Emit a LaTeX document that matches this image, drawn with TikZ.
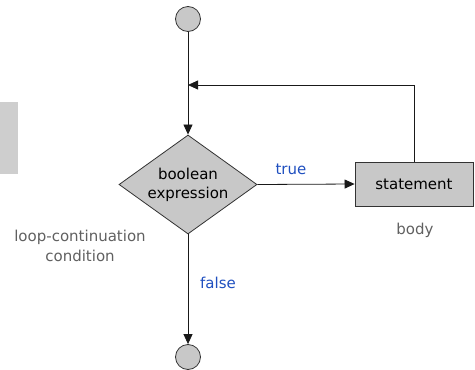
\documentclass[tikz,border=0pt]{standalone}
\usepackage{fontspec}
\setmainfont{DejaVu Sans}
\usetikzlibrary{shapes.geometric,arrows.meta}
\definecolor{shapegray}{HTML}{C8C8C8}
\definecolor{labelblue}{HTML}{1F4FBF}
\definecolor{notegray}{HTML}{606060}
\tikzset{
  terminal/.style={circle,draw=black!80,fill=shapegray,line width=0.8pt,minimum size=25pt,inner sep=0pt},
  decision/.style={diamond,draw=black!80,fill=shapegray,line width=0.8pt,minimum width=138pt,minimum height=99pt,inner sep=0pt},
  decisiontext/.style={align=center,inner sep=0pt,font=\fontsize{15}{19}\selectfont},
  process/.style={rectangle,draw=black!80,fill=shapegray,line width=0.8pt,minimum width=118pt,minimum height=44pt,inner sep=0pt,font=\fontsize{15}{17}\selectfont},
  flow/.style={draw=black!90,line width=0.8pt,-{Triangle[length=10pt,width=9pt]}},
  truefalse/.style={text=labelblue,font=\fontsize{15}{17}\selectfont},
  note/.style={text=notegray,align=center,font=\fontsize{15}{20}\selectfont}
}
\begin{document}
\begin{tikzpicture}[x=1pt,y=-1pt]
  \useasboundingbox (0,0) rectangle (475,370);
  % side tab
  \fill[shapegray!90] (0,102) rectangle (18,174);
  % flowchart nodes
  \node[terminal] (start) at (188,19) {};
  \node[decision,label={[decisiontext]center:boolean\\expression}] (cond) at (188,184.5) {};
  \node[process] (body) at (414,184) {statement};
  \node[terminal] (stop) at (188,357) {};
  \coordinate (merge) at (188,85);
  % connectors
  \draw[flow] (start) -- (cond);
  \draw[flow] (body.north) |- (merge);
  \draw[flow] (cond.east) -- (body.west);
  \draw[flow] (cond.south) -- (stop);
  % labels
  \node[truefalse] (tlabel) at (291,169) {true};
  \node[truefalse] (flabel) at (218,283) {false};
  \node[note] (bodylabel) at (415,230) {body};
  \node[note] (condlabel) at (80,246) {loop-continuation\\condition};
\end{tikzpicture}
\end{document}
